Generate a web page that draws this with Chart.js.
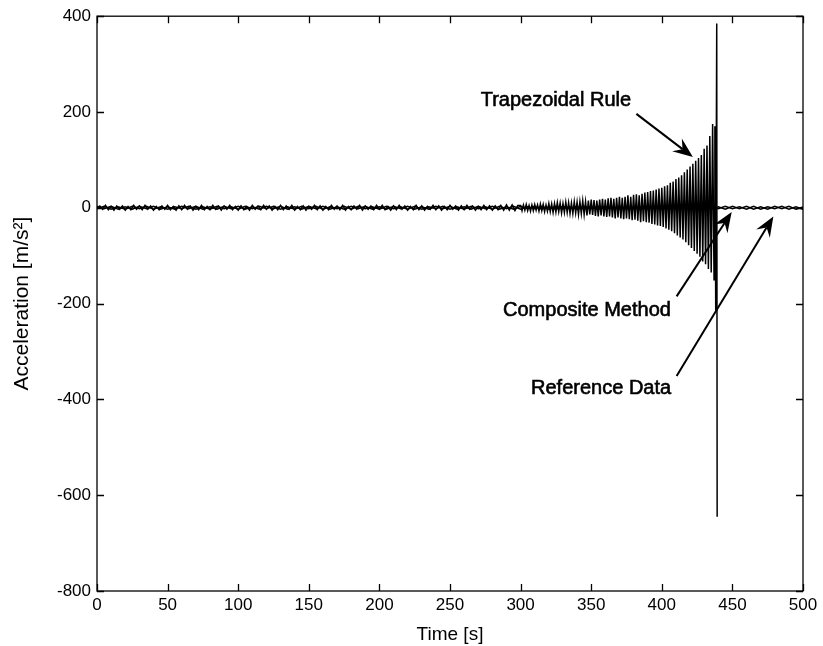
<!DOCTYPE html>
<html lang="en">
<head>
<meta charset="UTF-8">
<title>Acceleration vs Time</title>
<script src="https://cdn.jsdelivr.net/npm/chart.js@4.4.1/dist/chart.umd.min.js"></script>
<style>
    html, body { margin: 0; padding: 0; background: #fff; }
</style>
</head>
<body>
<canvas id="chart" width="823" height="646"></canvas>

<script>
    // axis ticks
    const xTicks = [0, 50, 100, 150, 200, 250, 300, 350, 400, 450, 500];
    const yTicks = [400, 200, 0, -200, -400, -600, -800];

    // Trapezoidal Rule: every 2 s from 0 to 298 s ...
    const trapSlowStep = 2;
    const trapSlowValues = [
        0, 4, -3, 5, -4, 3, -5, 4, -3, 4, -5, 3, -4, 5, -3, 4, -4, 5, -3, 4,
        -5, 3, -4, 4, -3, 5, -4, 3, -5, 4, -4, 5, -3, 4, -5, 3, -4, 5, -4, 3,
        -4, 5, -3, 4, -5, 4, -3, 5, -4, 3, -5, 4, -4, 3, -5, 5, -3, 4, -4, 5,
        -3, 4, -5, 3, -4, 5, -4, 4, -3, 5, -5, 3, -4, 4, -5, 3, -3, 5, -4, 4,
        -5, 3, -4, 5, -3, 4, -4, 5, -5, 3, -4, 4, -3, 5, -5, 4, -3, 4, -4, 5,
        -3, 5, -4, 3, -5, 4, -4, 5, -3, 4, -5, 3, -4, 5, -4, 4, -5, 3, -3, 5,
        -4, 4, -5, 3, -4, 5, -3, 4, -5, 4, -4, 5, -3, 4, -5, 3, -4, 5, -4, 4,
        -5, 4, -4, 5, -5, 6, -5, 6, -6, 5
    ];
    // ... then every 1 s from 300 to 436 s while it grows
    const trapFastStart = 300;
    const trapFastStep = 1;
    const trapFastValues = [
        5, -6, 6, -5, 7, -6, 5, -7, 6, -6, 7, -5, 6, -7, 8, -6, 7, -8, 6, -7,
        9, -8, 8, -10, 9, -9, 11, -8, 10, -11, 9, -10, 12, -10, 11, -12, 10, -12, 13, -11,
        12, -14, 13, -12, 15, -14, 13, -16, 15, -14, 17, -15, 16, -17, 15, -18, 17, -16, 19, -18,
        17, -19, 20, -18, 21, -20, 19, -22, 21, -20, 23, -22, 21, -24, 23, -22, 26, -24, 23, -26,
        27, -25, 28, -27, 26, -30, 29, -28, 32, -30, 33, -31, 35, -34, 36, -35, 38, -37, 40, -38,
        42, -40, 45, -43, 47, -46, 52, -49, 55, -53, 60, -58, 63, -62, 68, -66, 74, -72, 80, -78,
        86, -84, 92, -90, 98, -96, 104, -102, 110, -112, 123, -118, 130, -128, 150, -135, 175
    ];
    // last samples before the blow-up
    const spikeTimes = [437, 437.6, 438.2, 438.9, 439.2];
    const spikeValues = [-150, 170, -215, 385, -645];

    // Composite Method and Reference Data, every 5 s
    const compStep = 5;
    const compValues = [
        3, -2, 3, -3, 2, -3, 3, -2, 3, -3,
        2, -3, 3, -2, 3, -3, 2, -3, 3, -2,
        3, -3, 2, -3, 3, -2, 3, -3, 2, -3,
        3, -2, 3, -3, 2, -3, 3, -2, 3, -3,
        2, -3, 3, -2, 3, -3, 2, -3, 3, -2,
        3, -3, 2, -3, 3, -2, 3, -3, 2, -3,
        3, -2, 3, -3, 2, -3, 3, -2, 3, -3,
        2, -3, 3, -2, 3, -3, 2, -3, 3, -2,
        3, -3, 2, -3, 3, -2, 3, -3, 2, -3,
        3, -2, 3, -3, 2, -3, 3, -2, 3, -3,
        2
    ];
    const refStep = 5;
    const refValues = [
        -2, 3, -3, 2, -3, 3, -2, 3, -3, 2,
        -3, 2, -2, 3, -3, 2, -3, 3, -2, 2,
        -3, 3, -2, 3, -2, 3, -3, 2, -3, 3,
        -2, 3, -3, 2, -2, 3, -3, 3, -2, 2,
        -3, 3, -2, 2, -3, 3, -3, 2, -2, 3,
        -3, 2, -3, 3, -2, 2, -3, 3, -2, 3,
        -3, 2, -2, 3, -3, 3, -2, 2, -3, 3,
        -2, 3, -3, 2, -3, 3, -2, 2, -3, 3,
        -3, 2, -2, 3, -3, 2, -3, 3, -2, 3,
        -2, 2, -3, 3, -3, 2, -2, 3, -3, 2,
        -3
    ];

    const FONT = '"Liberation Sans", Arial, sans-serif';

    // text + arrow annotations (data coordinates)
    const notes = [
        { text: 'Trapezoidal Rule', tx: 325, ty: 225, fx: 382, fy: 196, ax: 422, ay: 106 },
        { text: 'Composite Method', tx: 347, ty: -214, fx: 410.5, fy: -185, ax: 449.5, ay: -9 },
        { text: 'Reference Data', tx: 357, ty: -378, fx: 410.5, fy: -351, ax: 479, ay: -18 }
    ];

    function toPoints(start, step, values) {
        return values.map((v, i) => ({ x: start + i * step, y: v }));
    }

    let trapData = toPoints(0, trapSlowStep, trapSlowValues)
        .concat(toPoints(trapFastStart, trapFastStep, trapFastValues));
    spikeTimes.forEach((t, i) => trapData.push({ x: t, y: spikeValues[i] }));

    // box round the plot with inward tick marks, like matlab
    const boxPlugin = {
        id: 'box',
        afterDraw(chart) {
            const c = chart.ctx, a = chart.chartArea;
            const xs = chart.scales.x, ys = chart.scales.y;
            const len = 7;
            c.save();
            c.strokeStyle = '#000';
            c.lineWidth = 1.3;
            c.strokeRect(a.left, a.top, a.right - a.left, a.bottom - a.top);
            c.beginPath();
            xTicks.forEach(v => {
                const px = Math.round(xs.getPixelForValue(v)) + 0.5;
                c.moveTo(px, a.bottom); c.lineTo(px, a.bottom - len);
                c.moveTo(px, a.top); c.lineTo(px, a.top + len);
            });
            yTicks.forEach(v => {
                const py = Math.round(ys.getPixelForValue(v)) + 0.5;
                c.moveTo(a.left, py); c.lineTo(a.left + len, py);
                c.moveTo(a.right, py); c.lineTo(a.right - len, py);
            });
            c.stroke();
            c.restore();
        }
    };

    const notePlugin = {
        id: 'notes',
        afterDatasetsDraw(chart) {
            const c = chart.ctx;
            const xs = chart.scales.x, ys = chart.scales.y;
            c.save();
            c.fillStyle = '#000';
            c.strokeStyle = '#000';
            c.font = '20px ' + FONT;
            c.textAlign = 'center';
            c.textBaseline = 'middle';
            notes.forEach(n => {
                const px = xs.getPixelForValue(n.tx), py = ys.getPixelForValue(n.ty);
                c.lineWidth = 0.6;
                c.fillText(n.text, px, py);
                c.strokeText(n.text, px, py);
                const x1 = xs.getPixelForValue(n.fx), y1 = ys.getPixelForValue(n.fy);
                const x2 = xs.getPixelForValue(n.ax), y2 = ys.getPixelForValue(n.ay);
                const ang = Math.atan2(y2 - y1, x2 - x1);
                const hl = 20, hw = 8, notch = 13;
                const cos = Math.cos(ang), sin = Math.sin(ang);
                c.lineWidth = 2;
                c.beginPath();
                c.moveTo(x1, y1);
                c.lineTo(x2 - notch * cos, y2 - notch * sin);
                c.stroke();
                c.beginPath();
                c.moveTo(x2, y2);
                c.lineTo(x2 - hl * cos - hw * sin, y2 - hl * sin + hw * cos);
                c.lineTo(x2 - notch * cos, y2 - notch * sin);
                c.lineTo(x2 - hl * cos + hw * sin, y2 - hl * sin - hw * cos);
                c.closePath();
                c.fill();
            });
            c.restore();
        }
    };

    const ctx = document.getElementById('chart');
    const lineStyle = { borderColor: '#000', borderWidth: 1.5, pointRadius: 0, fill: false, tension: 0 };

    const chart = new Chart(ctx, {
        type: 'line',
        data: {
            datasets: [
                Object.assign({ label: 'Reference Data', data: toPoints(0, refStep, refValues) }, lineStyle),
                Object.assign({ label: 'Composite Method', data: toPoints(0, compStep, compValues) }, lineStyle),
                Object.assign({ label: 'Trapezoidal Rule', data: trapData }, lineStyle)
            ]
        },
        options: {
            responsive: false,
            animation: false,
            layout: { padding: { top: 14, right: 20, left: 0, bottom: 0 } },
            plugins: { legend: { display: false }, tooltip: { enabled: false } },
            scales: {
                x: {
                    type: 'linear',
                    min: 0, max: 500,
                    afterBuildTicks: s => { s.ticks = xTicks.map(v => ({ value: v })); },
                    afterFit: s => { s.height = 55; },
                    grid: { display: false, drawTicks: false },
                    border: { display: false },
                    ticks: { color: '#000', padding: 4, maxRotation: 0, font: { family: FONT, size: 17 } },
                    title: { display: true, text: 'Time [s]', color: '#000', padding: { top: 6, bottom: 0 }, font: { family: FONT, size: 19 } }
                },
                y: {
                    type: 'linear',
                    min: -800, max: 400,
                    afterBuildTicks: s => { s.ticks = yTicks.map(v => ({ value: v })); },
                    afterFit: s => { s.width = 97; },
                    grid: { display: false, drawTicks: false },
                    border: { display: false },
                    ticks: { color: '#000', padding: 6, font: { family: FONT, size: 17 } },
                    title: { display: true, text: 'Acceleration [m/s²]', color: '#000', padding: { top: 10, bottom: 0 }, font: { family: FONT, size: 21 } }
                }
            }
        },
        plugins: [notePlugin, boxPlugin]
    });
</script>
</body>
</html>
